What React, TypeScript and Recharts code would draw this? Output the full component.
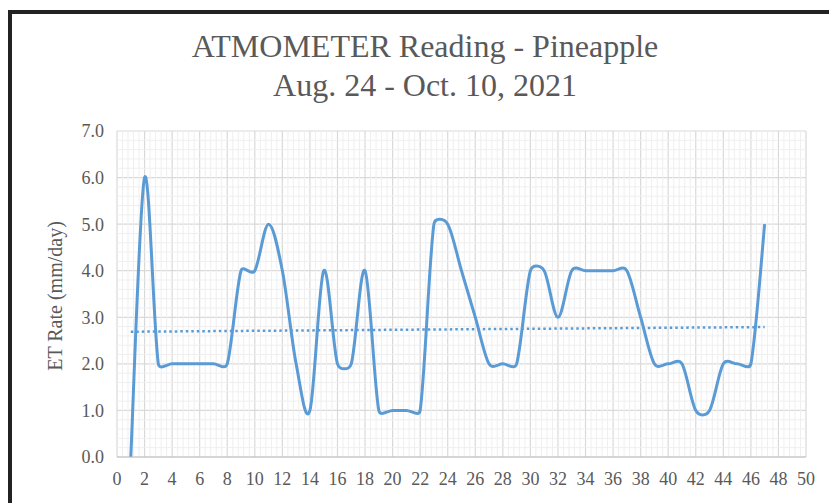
import React from 'react';
import { LineChart, Line, XAxis, YAxis, CartesianGrid, ReferenceLine } from 'recharts';

const days = [
  1, 2, 3, 4, 5, 6, 7, 8, 9, 10, 11, 12, 13, 14, 15, 16, 17, 18, 19, 20, 21, 22, 23, 24,
  25, 26, 27, 28, 29, 30, 31, 32, 33, 34, 35, 36, 37, 38, 39, 40, 41, 42, 43, 44, 45, 46, 47,
];
const etRate = [
  0, 6, 2, 2, 2, 2, 2, 2, 4, 4, 5, 4, 2, 1, 4, 2, 2, 4, 1, 1, 1, 1, 5, 5,
  4, 3, 2, 2, 2, 4, 4, 3, 4, 4, 4, 4, 4, 3, 2, 2, 2, 1, 1, 2, 2, 2, 5,
];
// linear trend line, end points
const trendDays = [1, 47];
const trendValues = [2.69, 2.79];

const xTicks = [0, 2, 4, 6, 8, 10, 12, 14, 16, 18, 20, 22, 24, 26, 28, 30, 32, 34, 36, 38, 40, 42, 44, 46, 48, 50];
const yTicks = [0, 1, 2, 3, 4, 5, 6, 7];
const minorX = Array.from({ length: 126 }, (_, i) => +(i * 0.4).toFixed(1)).filter((v) => v % 2 !== 0);
const minorY = Array.from({ length: 36 }, (_, i) => +(i * 0.2).toFixed(1)).filter((v) => v % 1 !== 0);

const data = days.map((d, i) => ({ day: d, et: etRate[i] }));
const trendData = trendDays.map((d, i) => ({ day: d, trend: trendValues[i] }));

const BLUE = '#5B9BD5';
const TEXT = '#595959';
const SERIF = '"Liberation Serif", "Times New Roman", serif';

// Excel-like smoothing: catmull-rom handles (1/6 of the neighbour chord),
// clamped to half of the segment so short flat parts do not overshoot
function excelSmooth(context: any) {
  let pts: [number, number][] = [];
  const handle = (i: number, limit: number): [number, number] => {
    const a = pts[Math.max(i - 1, 0)];
    const b = pts[Math.min(i + 1, pts.length - 1)];
    let dx = (b[0] - a[0]) / 6;
    let dy = (b[1] - a[1]) / 6;
    const len = Math.hypot(dx, dy);
    if (len > limit && len > 0) {
      dx *= limit / len;
      dy *= limit / len;
    }
    return [dx, dy];
  };
  return {
    areaStart() {},
    areaEnd() {},
    lineStart() {
      pts = [];
    },
    lineEnd() {
      if (!pts.length) return;
      context.moveTo(pts[0][0], pts[0][1]);
      for (let i = 0; i < pts.length - 1; i++) {
        const p1 = pts[i];
        const p2 = pts[i + 1];
        const half = Math.hypot(p2[0] - p1[0], p2[1] - p1[1]) / 2;
        const h1 = handle(i, half);
        const h2 = handle(i + 1, half);
        context.bezierCurveTo(p1[0] + h1[0], p1[1] + h1[1], p2[0] - h2[0], p2[1] - h2[1], p2[0], p2[1]);
      }
    },
    point(x: number, y: number) {
      pts.push([+x, +y]);
    },
  };
}

export default function App() {
  return (
    <div style={{ position: 'fixed', left: 0, top: 0, width: 829, height: 503, background: '#fff', overflow: 'hidden' }}>
      <div
        style={{
          position: 'absolute',
          left: 8,
          top: 10,
          width: 900,
          height: 600,
          borderTop: '4px solid #222',
          borderLeft: '4px solid #222',
        }}
      />
      <div
        style={{
          position: 'absolute',
          left: 0,
          width: 850,
          top: 27,
          textAlign: 'center',
          fontFamily: SERIF,
          fontSize: 32,
          lineHeight: '39px',
          color: TEXT,
        }}
      >
        <div>ATMOMETER Reading - Pineapple</div>
        <div>Aug. 24 - Oct. 10, 2021</div>
      </div>
      <div
        style={{
          position: 'absolute',
          left: 55,
          top: 296,
          transform: 'translate(-50%, -50%) rotate(-90deg)',
          whiteSpace: 'nowrap',
          fontFamily: SERIF,
          fontSize: 20,
          color: TEXT,
        }}
      >
        ET Rate (mm/day)
      </div>
      <div style={{ position: 'absolute', left: 0, top: 0 }}>
        <LineChart width={829} height={503} margin={{ top: 131, right: 23, bottom: 16, left: 57 }}>
          {minorX.map((v) => (
            <ReferenceLine key={`mx-${v}`} x={v} stroke="#efefef" strokeWidth={1} />
          ))}
          {minorY.map((v) => (
            <ReferenceLine key={`my-${v}`} y={v} stroke="#efefef" strokeWidth={1} />
          ))}
          <CartesianGrid stroke="#d9d9d9" strokeWidth={1.2} />
          <XAxis
            dataKey="day"
            type="number"
            domain={[0, 50]}
            ticks={xTicks}
            allowDuplicatedCategory={false}
            height={30}
            tickLine={false}
            axisLine={{ stroke: '#bfbfbf' }}
            tickMargin={9}
            tick={{ fontSize: 18, fill: TEXT, fontFamily: SERIF }}
            interval={0}
          />
          <YAxis
            type="number"
            domain={[0, 7]}
            ticks={yTicks}
            width={60}
            tickLine={false}
            axisLine={false}
            tickMargin={7}
            tickFormatter={(v: number) => v.toFixed(1)}
            tick={{ fontSize: 18, fill: TEXT, fontFamily: SERIF }}
            interval={0}
          />
          <Line
            data={trendData}
            dataKey="trend"
            type="linear"
            stroke={BLUE}
            strokeWidth={2.5}
            strokeDasharray="2.5 3"
            dot={false}
            isAnimationActive={false}
          />
          <Line
            data={data}
            dataKey="et"
            type={excelSmooth as any}
            stroke={BLUE}
            strokeWidth={3}
            dot={false}
            isAnimationActive={false}
          />
        </LineChart>
      </div>
    </div>
  );
}
